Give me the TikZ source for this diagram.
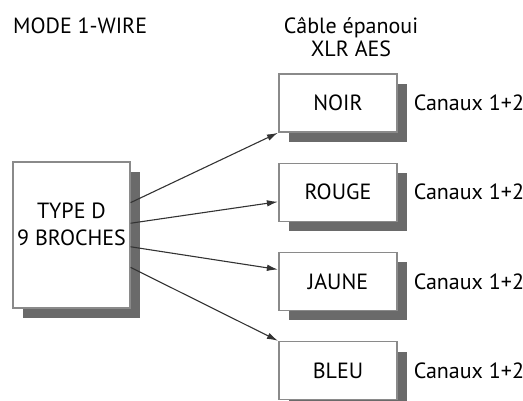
\documentclass[tikz,border=0pt]{standalone}
\usepackage{fontspec}
\setmainfont{PT Sans}
\usepackage{xcolor}
\definecolor{FrameGray}{HTML}{8A8A8A}
\definecolor{ShadeGray}{HTML}{6A6A6A}
\definecolor{WireGray}{HTML}{333333}
\usepackage{tikz}
\usetikzlibrary{arrows.meta,positioning,shadows,calc}

\begin{document}
\begin{tikzpicture}[x=1pt,y=-1pt,>={Latex[length=11pt,width=6.5pt]},
box/.style={draw=FrameGray,line width=1.2pt,fill=white,minimum width=118pt,minimum height=58pt,align=center,font=\fontsize{22}{27}\selectfont,
  drop shadow={shadow xshift=10pt,shadow yshift=-10pt,fill=ShadeGray,opacity=1}},
lbl/.style={font=\fontsize{22}{23.5}\selectfont,inner sep=0pt,align=center},
wire/.style={->,draw=WireGray,line width=1.1pt,shorten >=0.5pt}]
\useasboundingbox (0,0) rectangle (523,400);
\node[box,minimum width=117pt,minimum height=146pt] (typeD) at (71.5,235) {TYPE D\\9 BROCHES\\[-6pt]\mbox{}};
\node[box] (noir) at (338,103) {NOIR};
\node[box,below=30pt of noir] (rouge) {ROUGE};
\node[box,below=30pt of rouge] (jaune) {JAUNE};
\node[box,below=30pt of jaune] (bleu) {BLEU};
\foreach \c in {noir,rouge,jaune,bleu}
  \node[lbl,anchor=west] (can-\c) at ([xshift=16pt]\c.east) {Canaux 1+2};
\node[lbl,anchor=west] (mode) at (13,26) {MODE 1-WIRE};
\node[lbl] (cable) at (351,37) {Câble épanoui\\XLR AES};
\draw[wire] ($(typeD.north east)!0.28!(typeD.south east)$) -- (noir.south west);
\draw[wire] ($(typeD.north east)!0.42!(typeD.south east)$) -- ($(rouge.north west)!0.66!(rouge.south west)$);
\draw[wire] ($(typeD.north east)!0.58!(typeD.south east)$) -- ($(jaune.north west)!0.30!(jaune.south west)$);
\draw[wire] ($(typeD.north east)!0.72!(typeD.south east)$) -- (bleu.north west);
\end{tikzpicture}
\end{document}
